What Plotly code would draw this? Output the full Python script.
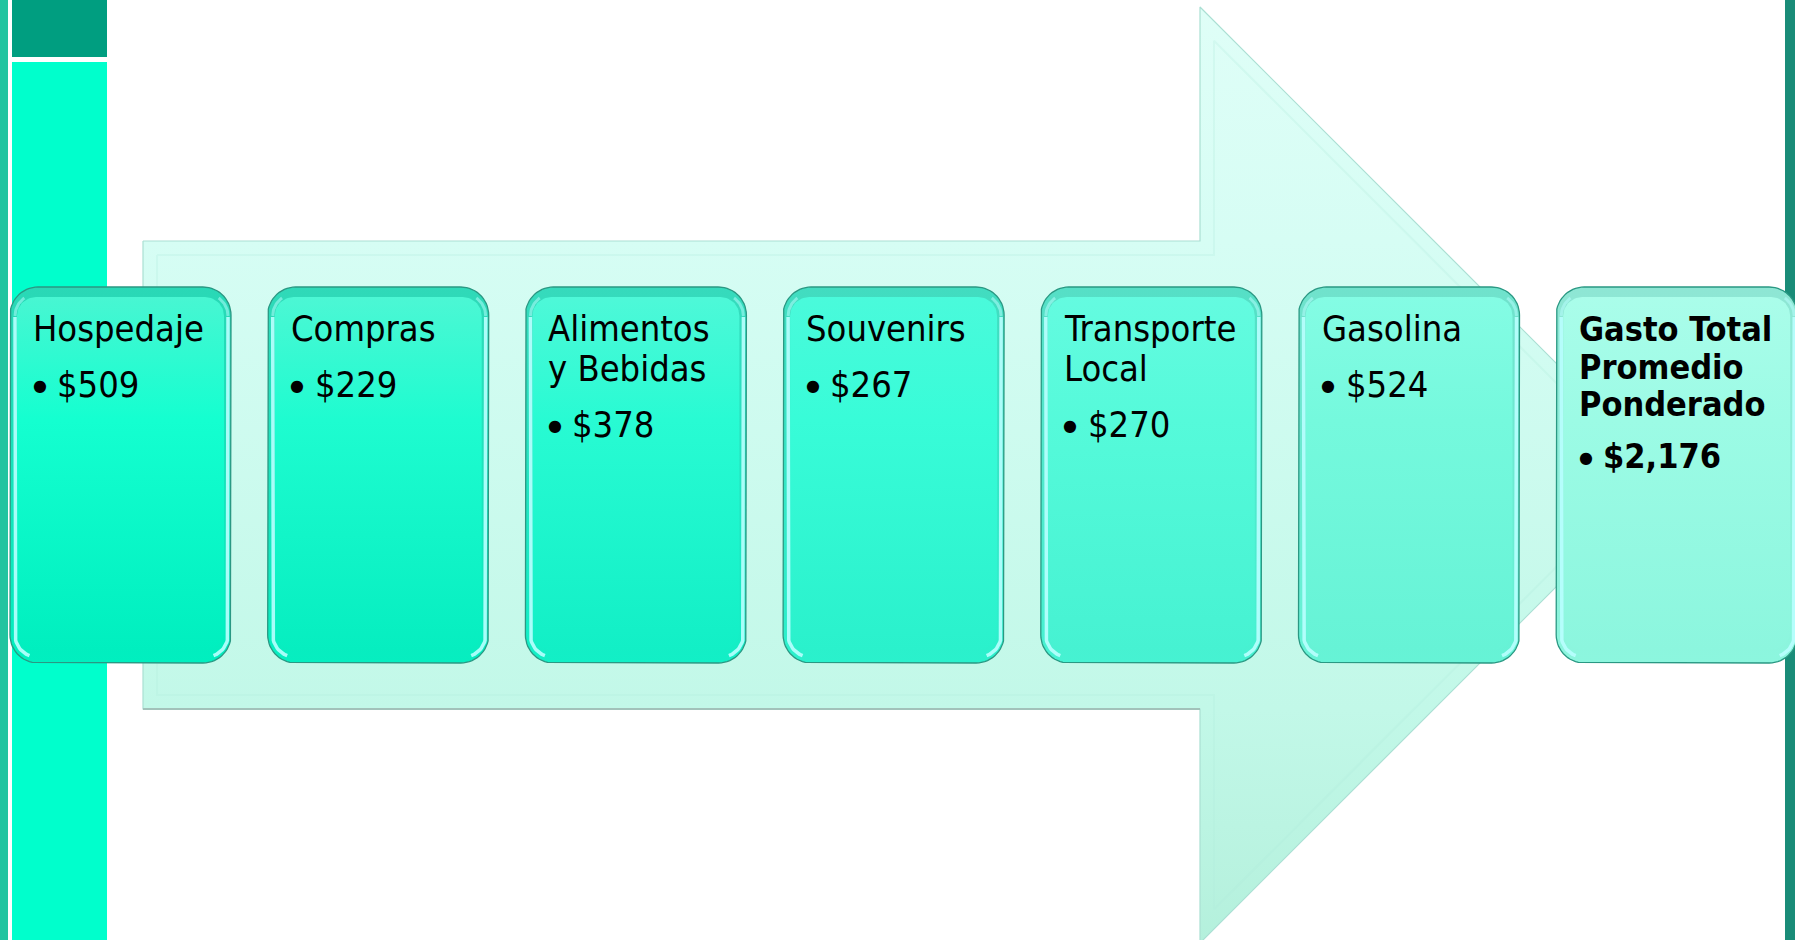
import numpy as np
import plotly.graph_objects as go

# ---------------- data ----------------
categories = ["Hospedaje", "Compras", "Alimentos y Bebidas", "Souvenirs",
              "Transporte Local", "Gasolina", "Gasto Total Promedio Ponderado"]
title_lines = [["Hospedaje"], ["Compras"], ["Alimentos", "y Bebidas"], ["Souvenirs"],
               ["Transporte", "Local"], ["Gasolina"], ["Gasto Total", "Promedio", "Ponderado"]]
values = [509, 229, 378, 267, 270, 524, 2176]
is_total = [False, False, False, False, False, False, True]

# ---------------- styles ----------------
box_top_colors = ["#48f6d2", "#4cf7d4", "#4ef8d8", "#4afadb", "#64fbe0", "#84fce4", "#aafdea"]
box_mid_colors = ["#14ffd0", "#1efcd0", "#28fbd3", "#38fcd8", "#55fada", "#75f9dd", "#9cfbe5"]
box_bot_colors = ["#00efbf", "#06eec0", "#12efc6", "#2af1cc", "#46f2d2", "#66f3d6", "#8cf6de"]
rim_colors = ["#2ad8b6", "#30d9b8", "#36dabc", "#42dcc0", "#56dfc6", "#70e2cc", "#8ee6d4"]

FONT = "DejaVu Sans Condensed, Liberation Sans Narrow, DejaVu Sans, sans-serif"
W, H = 1795, 940

fig = go.Figure()


def rrect(x0, y0, x1, y1, r, n=16):
    xs, ys = [], []
    corners = [(x1 - r, y0 + r, -90, 0), (x1 - r, y1 - r, 0, 90),
               (x0 + r, y1 - r, 90, 180), (x0 + r, y0 + r, 180, 270)]
    for cx, cy, a0, a1 in corners:
        for t in np.linspace(np.radians(a0), np.radians(a1), n):
            xs.append(cx + r * np.cos(t))
            ys.append(cy + r * np.sin(t))
    xs.append(xs[0])
    ys.append(ys[0])
    return xs, ys


def side_arc(xc, yc, r, a0, a1, n=16):
    t = np.radians(np.linspace(a0, a1, n))
    return list(xc + r * np.cos(t)), list(yc + r * np.sin(t))


# ---------------- background page decoration ----------------
shapes = [
    dict(type="rect", x0=0, x1=8, y0=0, y1=H, fillcolor="#22c4a0", line=dict(width=0), layer="below"),
    dict(type="rect", x0=12, x1=107, y0=0, y1=57, fillcolor="#009e80", line=dict(width=0), layer="below"),
    dict(type="rect", x0=12, x1=107, y0=62, y1=H, fillcolor="#00ffcc", line=dict(width=0), layer="below"),
    dict(type="rect", x0=1785, x1=W, y0=0, y1=H, fillcolor="#1a8c78", line=dict(width=0), layer="below"),
]

# ---------------- big arrow ----------------
ax0, ab_top, ab_bot, ahx, ah_top, ah_bot, atip = 143, 241, 709, 1200, 7, 943, 1668
acy = (ab_top + ab_bot) / 2
arrow_x = [ax0, ahx, ahx, atip, ahx, ahx, ax0, ax0]
arrow_y = [ab_top, ab_top, ah_top, acy, ah_bot, ab_bot, ab_bot, ab_top]
fig.add_trace(go.Scatter(
    x=arrow_x, y=arrow_y, mode="lines", fill="toself",
    line=dict(color="#aadfd3", width=1.2),
    fillgradient=dict(type="vertical", start=ah_top, stop=ah_bot,
                      colorscale=[[0, "#dffef7"], [0.25, "#d6fdf4"], [0.75, "#c2f8e8"], [1, "#b4f0dc"]]),
    hoverinfo="skip", showlegend=False))
# arrow bevel (inner soft line)
ins = 14
bev_x = [ax0 + ins, ahx + ins, ahx + ins, atip - ins * 1.41, ahx + ins, ahx + ins, ax0 + ins, ax0 + ins]
bev_y = [ab_top + ins, ab_top + ins, ah_top + ins * 2.41, acy, ah_bot - ins * 2.41, ab_bot - ins, ab_bot - ins, ab_top + ins]
fig.add_trace(go.Scatter(x=bev_x, y=bev_y, mode="lines",
                         line=dict(color="rgba(175,235,220,0.25)", width=2),
                         hoverinfo="skip", showlegend=False))
# bottom shadow edge of arrow body
fig.add_trace(go.Scatter(x=[ax0, ahx], y=[ab_bot, ab_bot], mode="lines",
                         line=dict(color="#a2c2ba", width=2), hoverinfo="skip", showlegend=False))

# ---------------- boxes ----------------
box_y0, box_y1 = 287, 663
pitch, first_left, box_w, last_w = 257.7, 10, 221, 241
R = 28
annotations = []
for i, cat in enumerate(categories):
    left = first_left + i * pitch
    w = last_w if is_total[i] else box_w
    right = left + w
    # outer rim
    xs, ys = rrect(left, box_y0, right, box_y1, R)
    fig.add_trace(go.Scatter(
        x=xs, y=ys, mode="lines", fill="toself",
        line=dict(color="#2a9883", width=1.3),
        fillgradient=dict(type="vertical", start=box_y0, stop=box_y1,
                          colorscale=[[0, rim_colors[i]], [1, box_bot_colors[i]]]),
        hoverinfo="skip", showlegend=False))
    # interior
    xs, ys = rrect(left + 7, box_y0 + 10, right - 7, box_y1 - 13, R - 9)
    fig.add_trace(go.Scatter(
        x=xs, y=ys, mode="lines", fill="toself",
        line=dict(color="rgba(0,0,0,0)", width=0),
        fillgradient=dict(type="vertical", start=box_y0 + 10, stop=box_y1 - 13,
                          colorscale=[[0, box_top_colors[i]], [0.35, box_mid_colors[i]],
                                      [1, box_bot_colors[i]]]),
        hoverinfo="skip", showlegend=False))
    # side highlights (left and right bevel glints)
    r2 = R - 6
    lx, ly = side_arc(left + 5 + r2, box_y1 - 6 - r2, r2, 180, 110)
    lx = [left + 5, left + 5] + lx
    ly = [box_y0 + R + 2, box_y1 - 6 - r2] + ly
    rx, ry = side_arc(right - 3 - r2, box_y1 - 6 - r2, r2, 0, 70)
    rx = [right - 3, right - 3] + rx
    ry = [box_y0 + R + 2, box_y1 - 6 - r2] + ry
    for hx, hy in ((lx, ly), (rx, ry)):
        fig.add_trace(go.Scatter(x=hx, y=hy, mode="lines",
                                 line=dict(color="rgba(185,255,255,0.9)", width=3.5),
                                 hoverinfo="skip", showlegend=False))
    # soft top-corner glints
    tx, ty = side_arc(left + 5 + r2, box_y0 + 7 + r2, r2, 180, 235)
    fig.add_trace(go.Scatter(x=tx, y=ty, mode="lines",
                             line=dict(color="rgba(185,255,255,0.5)", width=3),
                             hoverinfo="skip", showlegend=False))
    tx, ty = side_arc(right - 3 - r2, box_y0 + 7 + r2, r2, 0, -55)
    fig.add_trace(go.Scatter(x=tx, y=ty, mode="lines",
                             line=dict(color="rgba(185,255,255,0.5)", width=3),
                             hoverinfo="skip", showlegend=False))

    # text
    bold = is_total[i]
    fs = 34 if bold else 36
    lh = 37.5 if bold else 40
    base = 341
    for k, line in enumerate(title_lines[i]):
        bl = base + k * lh
        txt = f"<b>{line}</b>" if bold else line
        annotations.append(dict(x=left + 21, y=bl - 0.35 * fs, text=txt, xref="x", yref="y",
                                xanchor="left", yanchor="middle", showarrow=False,
                                font=dict(family=FONT, size=fs, color="black")))
    vbl = base + (len(title_lines[i]) - 1) * lh + (52 if bold else 56)
    vtxt = f"${values[i]:,}"
    if bold:
        vtxt = f"<b>{vtxt}</b>"
    annotations.append(dict(x=left + 29.5, y=vbl - 0.35 * fs + 1, text="●", xref="x", yref="y",
                            xanchor="center", yanchor="middle", showarrow=False,
                            font=dict(family="DejaVu Sans", size=16, color="black")))
    annotations.append(dict(x=left + 45, y=vbl - 0.35 * fs, text=vtxt, xref="x", yref="y",
                            xanchor="left", yanchor="middle", showarrow=False,
                            font=dict(family=FONT, size=fs, color="black")))

fig.update_layout(
    width=W, height=H, margin=dict(l=0, r=0, t=0, b=0),
    paper_bgcolor="white", plot_bgcolor="white",
    xaxis=dict(range=[0, W], visible=False, fixedrange=True),
    yaxis=dict(range=[H, 0], visible=False, fixedrange=True),
    shapes=shapes, annotations=annotations, showlegend=False,
)

fig.write_html("out.html", config={"displayModeBar": False},
               post_script="document.body.style.margin='0';document.body.style.overflow='hidden';")
